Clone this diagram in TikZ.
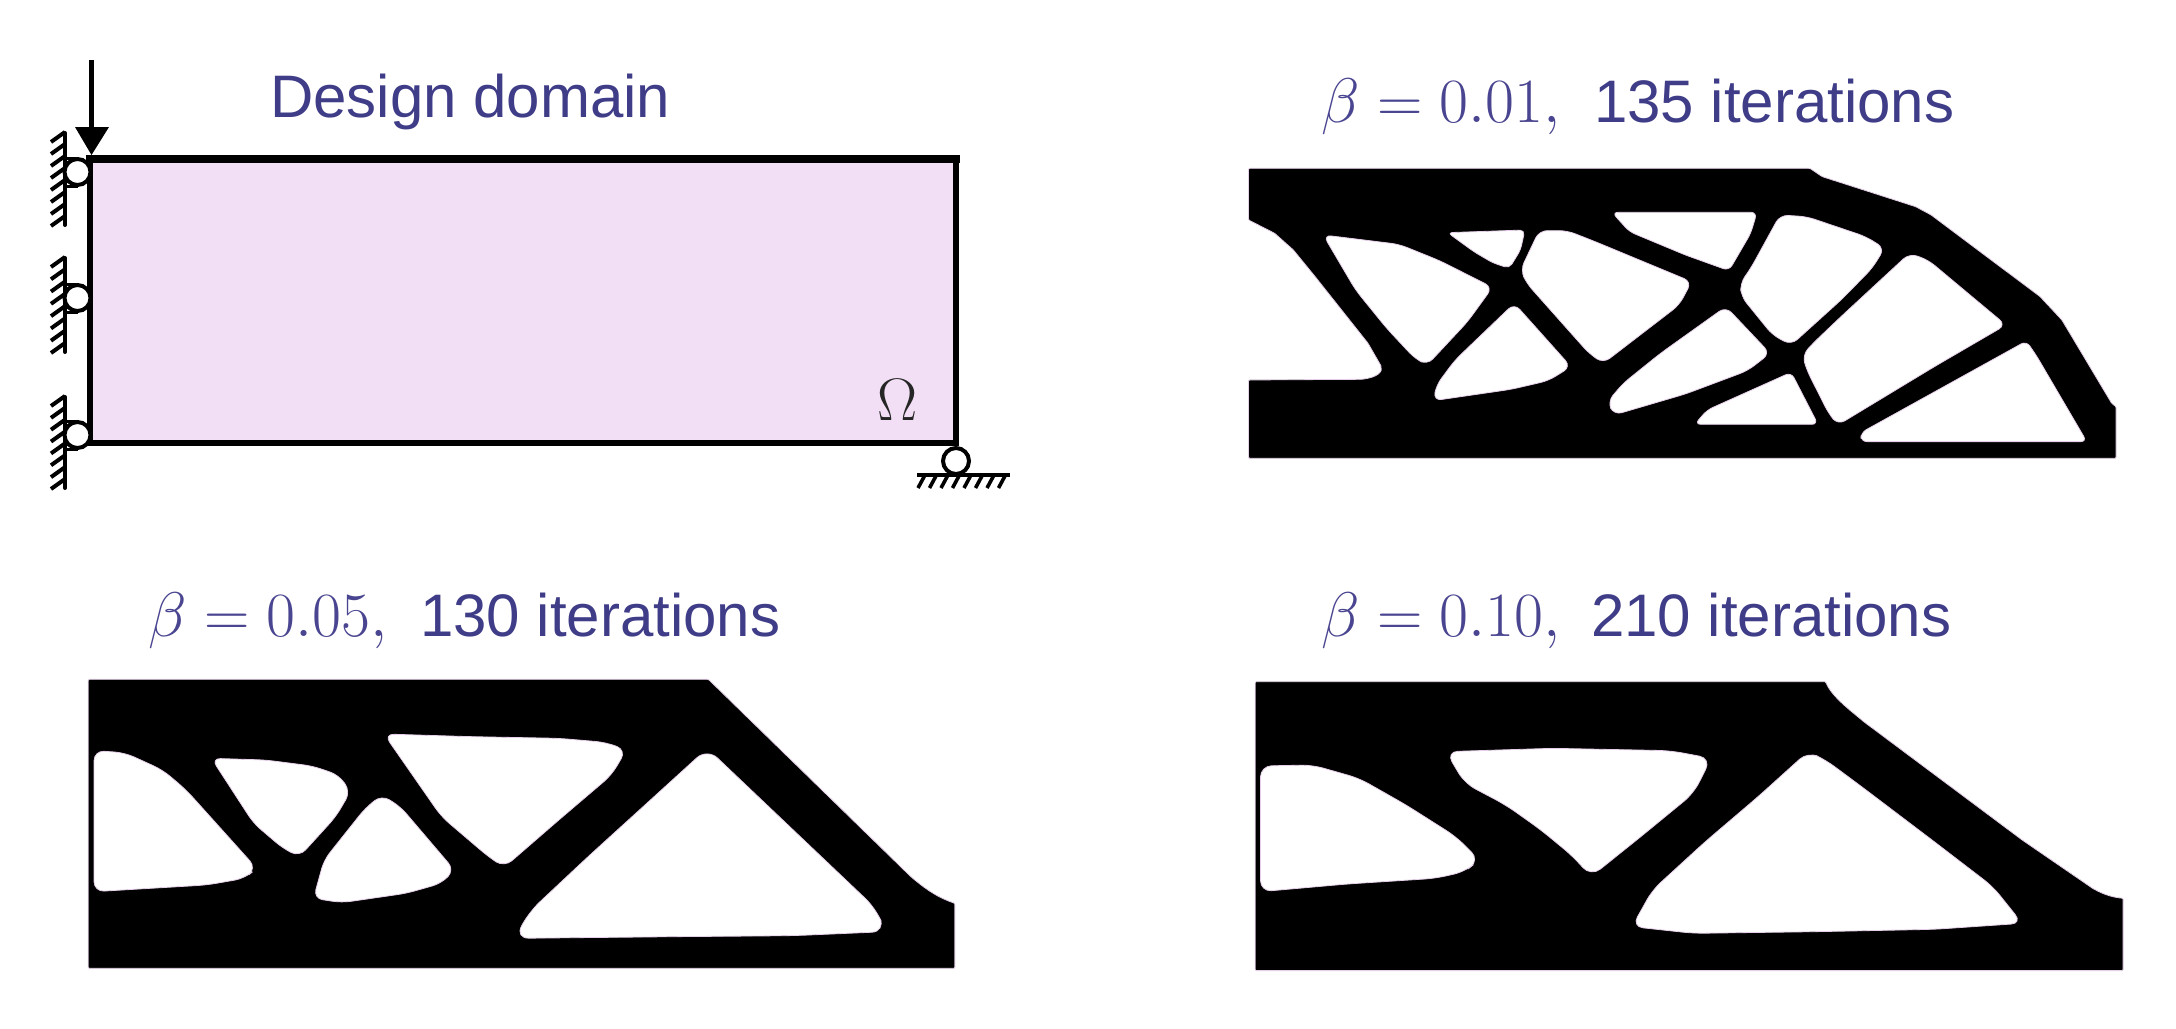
\RequirePackage{fix-cm}
\documentclass[tikz,border=0pt]{standalone}
\usepackage[no-math]{fontspec}
\newfontfamily\arialf{Liberation Sans}
\definecolor{inkblue}{HTML}{3F3C88}
\definecolor{mathink}{HTML}{4A4590}
\definecolor{domainfill}{HTML}{F3DFF5}
\definecolor{edgefringe}{HTML}{E6CFE9}
\tikzset{
  x=1pt,y=-1pt,
  sanslabel/.style={anchor=base west,inner sep=0pt,text=inkblue,font=\arialf\fontsize{60}{60}\selectfont},
  mathlabel/.style={anchor=base west,inner sep=0pt,text=mathink,font=\fontsize{63}{63}\selectfont},
  frameedge/.style={line width=6.5pt,line cap=rect},
  wallline/.style={line width=4pt,line cap=round},
  hatchline/.style={line width=4pt},
  pinring/.style={circle,draw=black,fill=white,line width=4pt,minimum size=26pt,inner sep=0pt},
  solidpart/.style={fill=black,draw=edgefringe,line width=.8pt,rounded corners=1pt},
  voidpart/.style={fill=white,draw=edgefringe,line width=.8pt},
}
\newcommand{\hole}[2][7pt]{\filldraw[voidpart,rounded corners=#1] plot[sharp cycle] coordinates {#2};}
\begin{document}
\begin{tikzpicture}
\useasboundingbox (0,0) rectangle (2176,1028);
\fill[white] (0,0) rectangle (2176,1028);

% design domain
\coordinate (tl) at (90,159);
\coordinate (tr) at (956,159);
\coordinate (br) at (956,443);
\coordinate (bl) at (90,443);
\fill[domainfill] (tl) rectangle (br);
\draw[frameedge,line width=8pt] (tl) -- (tr);
\draw[frameedge] (tr) -- (br) -- (bl) -- (tl);

% load
\coordinate (loadtop) at (91.5,60);
\coordinate (loadtip) at (91.5,155);
\draw[line width=5.5pt] (loadtop) -- (91.5,130);
\fill (75,127) -- (109,127) -- (loadtip) -- cycle;

% left supports
\foreach \cy/\ya/\yb in {172/133/225, 298/258/352, 435/397/488}{
  \draw[wallline] (65,\ya) -- (65,\yb);
  \foreach \k in {0,...,7}{
    \draw[hatchline] (65,{\ya+\k*(\yb-\ya-8)/7-1}) -- (51,{\ya+\k*(\yb-\ya-8)/7+9});
  }
  \draw[line width=3pt] (65,\cy-14) -- (78,\cy-14);
  \draw[line width=3pt] (65,\cy+14) -- (78,\cy+14);
  \node[pinring] (pin\cy) at (77.5,\cy) {};
}

% right support
\coordinate (gl) at (917,475);
\coordinate (gr) at (1010,475);
\draw[line width=4.5pt] (gl) -- (gr);
\foreach \k in {0,...,7}{
  \draw[line width=3.6pt] ({925+\k*11.5},475) -- ({918+\k*11.5},488);
}
\node[pinring] (pinr) at (956,461) {};

% labels
\node[sanslabel] (title) at (270,117) {Design domain};
\node[anchor=base west,inner sep=0pt,font=\fontsize{60}{60}\selectfont,text=black!85] (omega) at (877,420) {$\Omega$};

\node[mathlabel] (ma) at (1321,122) {$\beta=0.01,$};
\node[sanslabel] (ta) at (1594,122) {135 iterations};
\node[mathlabel] (mb) at (148,636) {$\beta=0.05,$};
\node[sanslabel] (tb) at (420,636) {130 iterations};
\node[mathlabel] (mc) at (1321,636) {$\beta=0.10,$};
\node[sanslabel] (tc) at (1591,636) {210 iterations};

% beta = 0.01
\begin{scope}[shift={(1200,140)},x=0.6223pt,y=-0.3333pt]
\filldraw[solidpart] (78,85) -- (980,85) -- (1000,110) -- (1150,200) -- (1175,225) -- (1350,470) -- (1385,540) -- (1465,790) -- (1472,800) -- (1472,955) -- (78,955) -- (78,720) -- (260,718) .. controls (285,712) and (295,695) .. (290,675) -- (270,610) -- (185,410) -- (150,330) -- (120,280) -- (78,240) -- cycle;
\hole[8pt]{(198,285)(320,313)(385,362)(470,442)(430,545)(365,675)(345,655)(300,565)(250,450)}
\hole[5pt]{(398,278)(522,270)(515,330)(497,385)(470,368)(440,335)}
\hole[8pt]{(545,272)(590,272)(635,305)(790,425)(770,495)(648,670)(625,640)(525,430)(515,390)}
\hole[6pt]{(662,217)(895,217)(885,280)(850,392)(780,345)(690,275)}
\hole[8pt]{(932,225)(975,230)(1070,290)(1100,325)(1080,385)(1030,480)(950,615)(920,585)(870,470)(868,430)(885,385)}
\hole[8pt]{(1140,340)(1170,360)(1295,555)(1180,680)(1025,855)(1010,820)(975,690)(968,645)(985,610)(1030,530)}
\hole[6pt]{(1328,603)(1345,650)(1425,905)(1062,905)(1062,878)}
\hole[8pt]{(505,490)(596,680)(560,722)(500,748)(375,782)(380,735)(410,660)}
\hole[8pt]{(845,500)(916,640)(880,692)(780,762)(665,825)(655,785)(680,730)(740,640)}
\hole[6pt]{(950,697)(993,853)(795,853)(815,810)}
\end{scope}

% beta = 0.05
\begin{scope}[shift={(60,660)},x=0.5868pt,y=-0.3333pt]
\filldraw[solidpart] (48,58) -- (1105,58) -- (1450,650) .. controls (1480,695) and (1500,715) .. (1525,730) -- (1525,925) -- (48,925) -- cycle;
\hole[10pt]{(58,272)(110,278)(175,330)(215,390)(335,625)(315,655)(250,675)(58,695)}
\hole[9pt]{(258,295)(350,300)(430,318)(475,345)(495,395)(470,470)(408,590)(380,565)(330,490)}
\hole[9pt]{(548,405)(580,440)(672,630)(650,670)(590,700)(480,728)(432,715)(450,600)(520,445)}
\hole[10pt]{(552,222)(700,230)(850,235)(930,247)(965,270)(940,345)(850,480)(757,622)(730,590)(650,470)}
\hole[14pt]{(1103,265)(1390,745)(1407,815)(1250,827)(1050,830)(775,835)(800,755)(900,590)(1000,430)}
\end{scope}

% beta = 0.10
\begin{scope}[shift={(1230,660)},x=0.5868pt,y=-0.3333pt]
\filldraw[solidpart] (43,65) -- (1015,65) .. controls (1025,110) and (1060,155) .. (1080,185) -- (1350,540) -- (1470,685) .. controls (1490,705) and (1505,712) .. (1522,715) -- (1522,932) -- (43,932) -- cycle;
\hole[11pt]{(52,318)(140,315)(220,355)(300,435)(385,530)(425,600)(400,635)(350,655)(200,672)(52,695)}
\hole[12pt]{(368,275)(550,265)(750,272)(820,295)(790,400)(700,530)(615,650)(585,590)(530,510)(470,435)(400,370)}
\hole[11pt]{(985,275)(1015,300)(1080,385)(1200,545)(1300,680)(1350,790)(1200,808)(1000,815)(790,820)(685,800)(720,690)(810,545)(900,410)}
\end{scope}
\end{tikzpicture}
\end{document}
